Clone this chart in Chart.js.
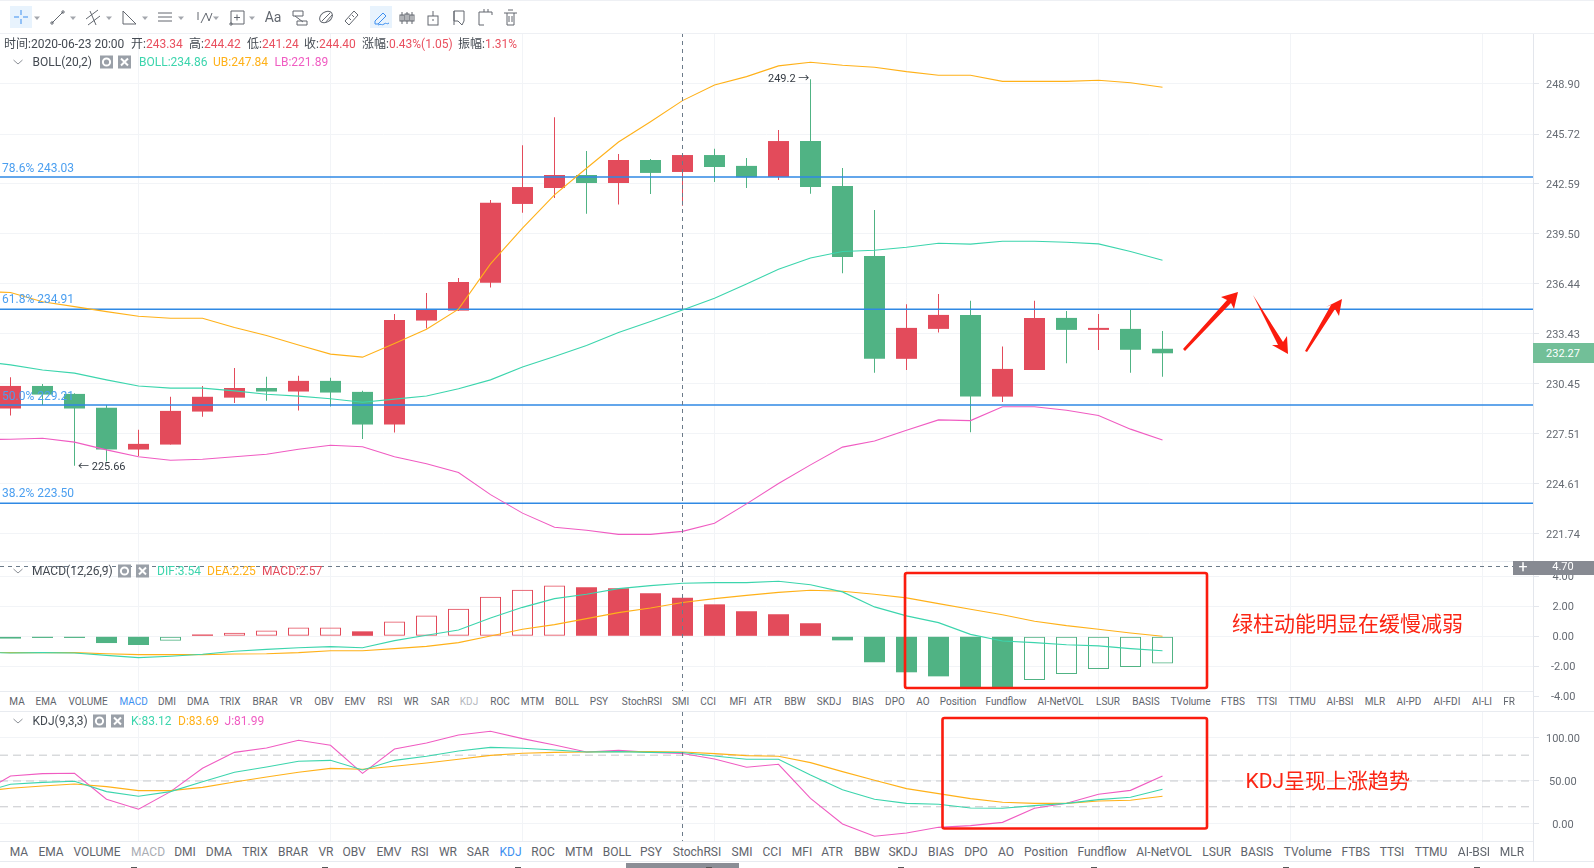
<!DOCTYPE html>
<html>
<head>
<meta charset="utf-8">
<title>BOLL MACD KDJ</title>
<script src="https://cdn.jsdelivr.net/npm/chart.js@4/dist/chart.umd.min.js"></script>
<style>
  html, body { margin: 0; padding: 0; background: #fff; overflow: hidden; }
  #page { position: relative; width: 1594px; height: 868px; overflow: hidden; font-family: Roboto, "Noto Sans CJK SC", sans-serif; }
  #page canvas { position: absolute; left: 0; }
  .txt { position: absolute; white-space: nowrap; line-height: 1; }
  .box { position: absolute; }
  svg { position: absolute; left: 0; top: 0; }
</style>
</head>
<body>
<div id="page">
  <canvas id="mainChart" width="1594" height="529" style="top:33px"></canvas>
  <canvas id="macdChart" width="1594" height="140" style="top:562px"></canvas>
  <canvas id="kdjChart" width="1594" height="129" style="top:712px"></canvas>
</div>
<script>
// candles, one entry per bar
const candleOpen = [229.00,230.33,229.86,229.04,226.60,226.89,228.82,229.64,230.21,230.00,230.63,229.98,228.06,234.23,234.83,236.52,241.35,242.34,243.15,242.65,244.09,243.34,244.40,243.72,243.03,245.28,242.47,238.15,231.94,233.73,234.57,229.70,231.28,234.39,233.67,233.73,232.54];
const candleHigh = [230.85,230.45,229.90,229.20,227.75,229.69,230.33,231.39,230.87,230.93,230.81,230.04,234.62,235.90,236.81,241.60,245.01,246.78,244.66,244.47,244.15,244.42,244.80,244.22,245.97,249.20,243.59,240.98,235.22,235.84,235.42,232.67,235.42,234.81,234.62,234.87,233.61];
const candleLow = [228.59,229.20,225.66,225.90,226.23,226.89,228.51,229.32,229.45,228.88,229.12,227.22,227.59,233.75,234.80,236.22,240.80,241.72,240.75,241.31,241.97,241.24,242.72,242.34,242.84,241.99,237.09,231.11,231.28,233.51,227.61,229.39,231.28,231.68,232.46,231.11,230.87];
const candleClose = [230.33,229.82,229.00,226.60,226.93,228.86,229.69,230.21,230.00,230.63,229.94,228.06,234.27,234.89,236.56,241.42,242.40,243.15,242.65,244.09,243.28,244.40,243.65,243.01,245.28,242.40,238.09,231.94,233.79,234.57,229.70,231.34,234.39,233.67,233.79,232.48,232.27];

// line series start one bar before the first candle
const bollUpper = [236.00,235.92,235.36,235.07,234.77,234.49,234.37,234.37,233.81,233.33,232.77,232.22,232.04,232.85,233.71,234.92,237.66,239.85,241.91,243.57,245.22,246.50,247.84,248.84,249.37,250.06,250.29,250.10,249.97,249.69,249.46,249.46,249.07,249.07,249.07,249.14,248.98,248.69];
const bollMiddle = [231.80,231.58,231.28,231.09,230.69,230.33,230.20,230.20,230.04,229.84,229.73,229.57,229.37,229.55,229.74,230.16,230.69,231.45,232.08,232.73,233.51,234.17,234.86,235.58,236.44,237.34,238.02,238.42,238.50,238.68,238.93,238.87,239.05,239.05,238.99,238.89,238.42,237.89];
const bollLower = [227.18,227.20,227.26,227.03,226.58,226.18,225.98,226.04,226.18,226.33,226.62,226.85,226.76,226.18,225.77,225.27,223.99,222.93,222.12,221.95,221.72,221.72,221.89,222.35,223.46,224.63,225.71,226.74,227.10,227.73,228.33,228.29,229.10,229.10,228.90,228.59,227.79,227.16];
const fibLevels = [243.03, 234.91, 229.21, 223.50];
const fibNames = ["78.6% 243.03", "61.8% 234.91", "50.0% 229.21", "38.2% 223.50"];

const macdHist = [-0.16,-0.11,-0.11,-0.45,-0.58,-0.30,0.12,0.24,0.38,0.58,0.58,0.33,0.98,1.38,1.84,2.64,3.11,3.38,3.27,3.20,2.87,2.57,2.13,1.67,1.47,0.87,-0.27,-1.73,-2.40,-2.67,-3.40,-3.40,-2.91,-2.51,-2.18,-2.04,-1.82];
const macdSolidBars = [1,2,3,4,6,11,18,19,20,21,22,23,24,25,26,27,28,29,30,31];
const macdDif = [-1.08,-1.11,-1.09,-1.11,-1.27,-1.42,-1.33,-1.20,-1.00,-0.87,-0.76,-0.69,-0.76,-0.29,0.07,0.42,1.22,1.93,2.51,2.80,3.18,3.38,3.54,3.58,3.58,3.67,3.44,2.96,1.96,1.36,0.91,0.13,-0.31,-0.42,-0.56,-0.64,-0.82,-0.96];
const macdDea = [-1.06,-1.09,-1.09,-1.09,-1.16,-1.22,-1.22,-1.22,-1.18,-1.16,-1.09,-0.96,-0.96,-0.82,-0.67,-0.42,0.02,0.47,0.78,1.18,1.58,1.89,2.25,2.51,2.73,2.93,3.07,3.00,2.80,2.56,2.18,1.80,1.44,1.00,0.71,0.47,0.22,0.00];

const kdjK = [35.7,46.1,48.4,49.6,37.6,32.2,37.6,49.2,60.1,66.3,72.9,74.0,62.8,74.0,78.7,84.9,89.1,88.0,86.0,83.7,84.1,83.3,83.12,79.1,75.2,75.2,57.0,39.9,28.7,24.0,22.9,18.6,18.2,21.3,24.0,28.3,31.0,40.3];
const kdjD = [37.6,41.5,44.2,46.5,43.4,38.8,38.8,42.6,48.8,54.7,60.1,64.7,63.6,67.1,70.9,75.2,79.8,82.2,83.3,83.7,84.1,84.1,83.69,81.8,79.5,78.7,71.3,60.9,50.8,41.1,35.3,29.5,25.2,24.0,24.0,26.7,27.5,32.2];
const kdjJ = [33.7,55.8,58.5,58.9,28.7,17.1,37.6,64.7,83.3,88.4,97.3,91.5,58.9,87.2,94.2,103.5,107.8,99.2,91.9,83.7,85.7,83.3,81.99,75.6,65.9,69.4,29.8,0.0,-14.3,-10.5,-3.9,-1.9,1.9,18.2,24.0,34.5,39.1,55.8];
const kdjLevels = [80, 50, 20];

const priceTicks = [248.90,245.72,242.59,239.50,236.44,233.43,230.45,227.51,224.61,221.74];
const macdTicks = [4,2,0,-2,-4];
const kdjTicks = [100,50,0];
const gridBars = [4,10,16,22,28,34,40,46];
const crossBar = 21;

const indicatorTabs = ["MA","EMA","VOLUME","MACD","DMI","DMA","TRIX","BRAR","VR","OBV","EMV","RSI","WR","SAR","KDJ","ROC","MTM","BOLL","PSY","StochRSI","SMI","CCI","MFI","ATR","BBW","SKDJ","BIAS","DPO","AO","Position","Fundflow","AI-NetVOL","LSUR","BASIS","TVolume","FTBS","TTSI","TTMU","AI-BSI","MLR","AI-PD","AI-FDI","AI-LI","FR"];
const macdTabX = [17,46,88,133.6,167,198,230,265,296,324,355,385,411,440,469,500,532.5,567,599,642,680.6,708,738,762.6,795,829,863,895,923,958,1006,1060.6,1108,1146,1190.5,1233,1267,1302,1340,1375,1409,1447,1482,1509];
const kdjTabX = [19,51,97,148,185,219,255,293,326,354,389,420,448,478,510.5,543,579,617,651,697,742,772,802,832,867,903,941,976,1006,1046,1102,1164,1216.7,1257,1307.7,1355.7,1392,1431,1474,1512];

const RED = '#e34b5b';
const GREEN = '#50b384';
const TEAL = '#3cd5ad';
const ORANGE = '#ffb119';
const PINK = '#f05cc2';
const BLUE = '#2f89e4';
const GRID = '#f2f4f7';
const AXIS = '#e3e6ec';

const page = document.getElementById('page');

function addText(str, left, centerY, color, size, center) {
  const el = document.createElement('span');
  el.className = 'txt';
  el.textContent = str;
  el.style.left = left + 'px';
  el.style.top = centerY + 'px';
  el.style.color = color;
  el.style.fontSize = size + 'px';
  el.style.transform = center ? 'translate(-50%,-50%)' : 'translateY(-50%)';
  page.appendChild(el);
}

function addBox(left, top, width, height, color) {
  const el = document.createElement('div');
  el.className = 'box';
  el.style.cssText += `left:${left}px;top:${top}px;width:${width}px;height:${height}px;background:${color}`;
  page.appendChild(el);
}

function lineSeries(values, color) {
  return {
    type: 'line',
    data: values.map((v, i) => ({ x: i - 1, y: v })),
    borderColor: color,
    borderWidth: 1.1,
    pointRadius: 0,
    tension: 0,
    order: 0
  };
}

function levelSeries(value, color, dash) {
  return {
    type: 'line',
    data: [{ x: xMin, y: value }, { x: xMax, y: value }],
    borderColor: color,
    borderWidth: dash ? 1 : 1.4,
    borderDash: dash || [],
    pointRadius: 0,
    order: 1
  };
}

// 32px per bar, plot area is 1533px wide
const xMin = -10.5 / 32;
const xMax = (1533 - 10.5) / 32;

// dashed crosshair, the x of the hovered bar and the y of the cursor in the macd pane
const crosshair = {
  id: 'crosshair',
  afterDatasetsDraw(chart, args, opts) {
    const ctx = chart.ctx;
    const area = chart.chartArea;
    ctx.save();
    ctx.strokeStyle = '#6c7b8a';
    ctx.lineWidth = 1;
    ctx.setLineDash([4, 4]);
    const px = Math.round(chart.scales.x.getPixelForValue(crossBar)) - 0.5;
    ctx.beginPath();
    ctx.moveTo(px, area.top);
    ctx.lineTo(px, Math.min(area.bottom, opts.bottom || area.bottom));
    ctx.stroke();
    if (opts.y !== undefined) {
      const py = Math.round(chart.scales.y.getPixelForValue(opts.y)) + 0.5;
      ctx.beginPath();
      ctx.moveTo(0, py);
      ctx.lineTo(1513, py);
      ctx.stroke();
    }
    ctx.restore();
  }
};

function paneOptions(yMin, yMax, yTicks, yType, padding, crossOpts) {
  return {
    responsive: false,
    animation: false,
    devicePixelRatio: 1,
    layout: { padding: 0 },
    plugins: { legend: { display: false }, tooltip: { enabled: false }, crosshair: crossOpts },
    scales: {
      x: {
        type: 'linear',
        offset: false,
        min: xMin,
        max: xMax,
        afterBuildTicks: (axis) => { axis.ticks = gridBars.map(v => ({ value: v })); },
        afterFit: (axis) => { axis.height = 0; },
        ticks: { display: false },
        grid: { color: GRID, drawTicks: false, offset: false },
        border: { display: false }
      },
      y: {
        type: yType,
        position: 'right',
        min: yMin,
        max: yMax,
        afterBuildTicks: (axis) => { axis.ticks = yTicks.map(v => ({ value: v })); },
        afterFit: (axis) => { axis.width = 61; axis.paddingTop = 0; axis.paddingBottom = 0; },
        ticks: {
          autoSkip: false,
          padding: padding,
          labelOffset: 1,
          crossAlign: 'center',
          color: '#666b73',
          font: { family: 'Roboto', size: 11 },
          callback: (v) => Number(v).toFixed(2)
        },
        grid: { color: GRID, tickColor: AXIS, tickLength: 6 },
        border: { color: AXIS }
      }
    }
  };
}

// wick and body are two floating bar sets drawn over each other
const candleColors = candleClose.map((c, i) => (c >= candleOpen[i] ? RED : GREEN));

new Chart(document.getElementById('mainChart'), {
  type: 'bar',
  data: {
    datasets: [
      {
        data: candleHigh.map((h, i) => ({ x: i, y: [candleLow[i], h] })),
        backgroundColor: candleColors,
        barThickness: 1,
        inflateAmount: 0,
        grouped: false,
        order: 3
      },
      {
        data: candleOpen.map((o, i) => ({ x: i, y: [o, candleClose[i]] })),
        backgroundColor: candleColors,
        barThickness: 21,
        inflateAmount: 0,
        grouped: false,
        order: 2
      },
      ...fibLevels.map(v => levelSeries(v, BLUE)),
      lineSeries(bollMiddle, TEAL),
      lineSeries(bollUpper, ORANGE),
      lineSeries(bollLower, PINK)
    ]
  },
  options: paneOptions(220.15, 252.18, priceTicks, 'logarithmic', 7, {}),
  plugins: [crosshair]
});

new Chart(document.getElementById('macdChart'), {
  type: 'bar',
  data: {
    datasets: [
      {
        data: macdHist.map((v, i) => ({ x: i, y: v })),
        backgroundColor: macdHist.map((v, i) => (macdSolidBars.includes(i) ? (v > 0 ? RED : GREEN) : 'rgba(255,255,255,0)')),
        borderColor: macdHist.map(v => (v > 0 ? RED : GREEN)),
        borderWidth: macdHist.map((v, i) => (macdSolidBars.includes(i) ? 0 : 1)),
        borderSkipped: false,
        inflateAmount: 0,
        barThickness: 21,
        grouped: false,
        order: 2
      },
      lineSeries(macdDif, TEAL),
      lineSeries(macdDea, ORANGE)
    ]
  },
  options: paneOptions(-4.38, 4.953, macdTicks, 'linear', 12, { y: 4.70, bottom: 129 }),
  plugins: [crosshair]
});

new Chart(document.getElementById('kdjChart'), {
  type: 'line',
  data: {
    datasets: [
      ...kdjLevels.map(v => levelSeries(v, '#c6c8cc', [8, 5])),
      lineSeries(kdjK, TEAL),
      lineSeries(kdjD, ORANGE),
      lineSeries(kdjJ, PINK)
    ]
  },
  options: paneOptions(-19.8, 130.2, kdjTicks, 'linear', 7, {}),
  plugins: [crosshair]
});

// pane separators and the tab strips
addBox(0, 0, 1594, 1, '#eef0f4');
addBox(0, 33, 1594, 1, '#eef0f4');
addBox(0, 691, 1533, 21, '#fff');
addBox(0, 841, 1533, 21, '#fff');
addBox(0, 561, 1533, 1, '#e8ebf0');
addBox(0, 691, 1533, 1, '#e8ebf0');
addBox(0, 711, 1594, 1, '#e8ebf0');
addBox(0, 841, 1533, 1, '#e8ebf0');
addBox(0, 861, 1594, 1, '#e8ebf0');
addBox(1533, 690, 1, 172, AXIS);
addBox(626, 863, 113, 5, '#8b8e96');
[134, 325, 518, 709, 901, 1094, 1286, 1477].forEach(x => addBox(x - 3, 867, 6, 1, '#555'));

macdTabX.forEach((x, i) => {
  const name = indicatorTabs[i];
  const color = name === 'MACD' ? '#3d8ff0' : name === 'KDJ' ? '#b4b7bd' : '#5f646c';
  addText(name, x, 701.5, color, 10, true);
});
kdjTabX.forEach((x, i) => {
  const name = indicatorTabs[i];
  const color = name === 'KDJ' ? '#3d8ff0' : name === 'MACD' ? '#a9acb3' : '#5f646c';
  addText(name, x, 851.5, color, 12, true);
});

// header row
const HEAD = '#444a52';
const VALUE = '#e9505f';
[['时间:2020-06-23 20:00', null, 4], ['开:', '243.34', 131], ['高:', '244.42', 189], ['低:', '241.24', 247], ['收:', '244.40', 304], ['涨幅:', '0.43%(1.05)', 362], ['振幅:', '1.31%', 458]].forEach(h => {
  const el = document.createElement('span');
  el.className = 'txt';
  el.style.cssText += `left:${h[2]}px;top:43.5px;transform:translateY(-50%);font-size:12px;color:${HEAD}`;
  el.textContent = h[0];
  if (h[1]) {
    const val = document.createElement('span');
    val.style.color = VALUE;
    val.textContent = h[1];
    el.appendChild(val);
  }
  page.appendChild(el);
});

addText('BOLL(20,2)', 32.5, 62, HEAD, 12);
addText('BOLL:234.86', 139, 62, TEAL, 12);
addText('UB:247.84', 213, 62, ORANGE, 12);
addText('LB:221.89', 274.5, 62, PINK, 12);

addText('MACD(12,26,9)', 32, 571, HEAD, 12);
addText('DIF:3.54', 157, 571, TEAL, 12);
addText('DEA:2.25', 207, 571, ORANGE, 12);
addText('MACD:2.57', 262, 571, RED, 12);

addText('KDJ(9,3,3)', 32.5, 721, HEAD, 12);
addText('K:83.12', 131, 721, TEAL, 12);
addText('D:83.69', 178, 721, ORANGE, 12);
addText('J:81.99', 224.6, 721, PINK, 12);

const fibY = [167.7, 299.3, 395.7, 493];
fibNames.forEach((name, i) => addText(name, 2, fibY[i], '#4b9ff0', 12));

addText('249.2 →', 768, 78.3, '#333a42', 11);
addText('← 225.66', 78, 465.5, '#333a42', 11);

// price tags on the axis
addBox(1533, 343, 61, 20, '#72bf98');
addBox(1533, 561, 61, 14, '#878a92');
addBox(1513, 561, 20, 14, '#878a92');
addText('232.27', 1563, 353, '#fff', 11, true);
addText('4.70', 1563, 566, '#fff', 11, true);
addText('+', 1523, 566.5, '#fff', 16, true);

addText('绿柱动能明显在缓慢减弱', 1232, 623.5, '#fb2514', 21);
addText('KDJ呈现上涨趋势', 1245.5, 780.5, '#fb2514', 21);

// toolbar icons and hand drawn annotations, none of these are data
const ic = '#62676f';
const carets = [37, 73, 109, 145, 181, 216, 252].map(x => `<path d="M${x - 3} 16.5h6l-3 3.5z" fill="#a4a7ad"/>`).join('');
const toolbar = `
<rect x="10" y="6" width="22" height="22" fill="#e8f3fd"/>
<rect x="370" y="6" width="22" height="22" fill="#e8f3fd"/>
<g fill="none" stroke="#3d8ff0" stroke-width="1">
  <path d="M21 10v5M21 19v5M14 17h5M23 17h5"/>
  <path d="M375 21l8-8 3 3-8 8h-3z"/><path d="M378 25c3-2 4 1 6-1s3 1 5-1"/>
</g>
<g fill="none" stroke="${ic}" stroke-width="1">
  <path d="M52 23l11-11"/><circle cx="52" cy="23" r="1.2"/><circle cx="63" cy="12" r="1.2"/>
  <path d="M86 19l12-9M88 25l12-9M90 11l6 14"/>
  <path d="M123 11v13h13z"/>
  <path d="M158 13h14M158 17h14M158 21h14"/>
  <path d="M198 12v8M201 23l5-10 3 8 3-8"/>
  <path d="M231 11h13v13h-13zM234 17.5h6M237 14.5v6"/><circle cx="231" cy="24" r="1.2"/>
  <path d="M293 11l10 0v5h-10zM297 21h10v4h-10zM295 16l8 6"/>
  <ellipse cx="326" cy="17" rx="7" ry="5" transform="rotate(-35 326 17)"/><path d="M322 21l8-8M325 23l7-8"/>
  <path d="M345 21l9-10 4 4-9 10zM349 18l2 2M352 15l2 2"/>
  <path d="M402 12v12M407 12v12M412 12v12"/><rect x="400" y="15" width="4" height="6"/><rect x="405" y="14" width="4" height="7"/><rect x="410" y="15" width="4" height="6"/>
  <rect x="428" y="16" width="10" height="9"/><path d="M433 11v5M433 19v2"/>
  <path d="M454 11h10v10l-2 4-4-4h-4zM454 11v14"/>
  <path d="M479 12h13M479 12v13h5M492 12v3M484 9v3M488 9v3"/>
  <path d="M504 13h13M507 13v12h7v-12M508 10h5M509 16v6M512 16v6"/>
</g>
<text x="273" y="22" text-anchor="middle" font-size="14" fill="${ic}" font-family="Roboto">Aa</text>
${carets}`;

function chevron(y) { return `<path d="M13.5 ${y - 2}l4.5 4 4.5-4" fill="none" stroke="#8c9097"/>`; }
function paneIcons(gearX, closeX, y) {
  return `<rect x="${gearX}" y="${y - 6.5}" width="13" height="13" fill="#9aa0a8"/>
  <circle cx="${gearX + 6.5}" cy="${y}" r="3.6" fill="none" stroke="#fff" stroke-width="2"/>
  <rect x="${closeX}" y="${y - 6.5}" width="13" height="13" fill="#9aa0a8"/>
  <path d="M${closeX + 3} ${y - 3.5}l7 7M${closeX + 10} ${y - 3.5}l-7 7" stroke="#fff" stroke-width="2"/>`;
}

const annotations = `
<rect x="905" y="573" width="302" height="115" rx="2" fill="none" stroke="#fb1c0e" stroke-width="2.6"/>
<rect x="942.5" y="718" width="264.5" height="110.5" rx="2" fill="none" stroke="#fb1c0e" stroke-width="2.6"/>
<g fill="#fb1c0e">
  <polygon points="1183,349 1227,300 1221,297 1238,292 1234,309 1231,303 1185,351"/>
  <polygon points="1253,295 1283,342 1287,336 1288,354 1272,345 1278,345"/>
  <polygon points="1305,351 1331,305 1326,307 1342,299 1339,316 1335,309 1307,352"/>
</g>`;

const overlay = document.createElementNS('http://www.w3.org/2000/svg', 'svg');
overlay.setAttribute('width', 1594);
overlay.setAttribute('height', 868);
overlay.innerHTML = toolbar + chevron(62) + chevron(571) + chevron(721)
  + paneIcons(100, 118, 62) + paneIcons(118, 136, 571) + paneIcons(93, 111, 721) + annotations;
page.appendChild(overlay);
</script>
</body>
</html>
